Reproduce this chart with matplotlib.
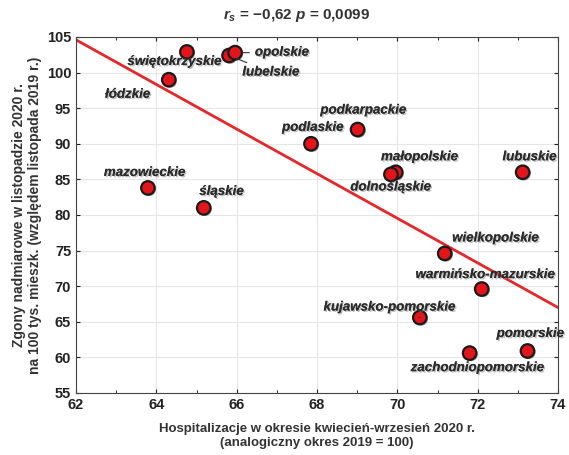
import matplotlib.pyplot as plt
import matplotlib.patheffects as pe

plt.rcParams['font.family'] = ['Liberation Sans', 'DejaVu Sans']
plt.rcParams['mathtext.fontset'] = 'custom'
plt.rcParams['mathtext.it'] = 'Liberation Sans:bold:italic'
plt.rcParams['mathtext.rm'] = 'Liberation Sans:bold'

# voivodeships: hospitalisations (x) vs excess deaths (y)
regions = ["świętokrzyskie", "lubelskie", "opolskie", "łódzkie", "podlaskie",
           "podkarpackie", "małopolskie", "dolnośląskie", "lubuskie",
           "mazowieckie", "śląskie", "wielkopolskie", "warmińsko-mazurskie",
           "kujawsko-pomorskie", "zachodniopomorskie", "pomorskie"]
hosp = [64.76, 65.81, 65.96, 64.31, 67.85, 69.01, 69.96, 69.84, 73.12,
        63.79, 65.18, 71.18, 72.10, 70.56, 71.80, 73.24]
deaths = [102.9, 102.4, 102.8, 99.0, 90.0, 92.0, 86.0, 85.7, 86.0,
          83.8, 81.0, 74.6, 69.6, 65.6, 60.6, 60.9]

# regression line
fit_x = [62, 74]
fit_y = [104.6, 67.0]

# label offsets in pixels (dx, dy) and whether a leader line is drawn
offsets = {
    "świętokrzyskie": (-12, -10, False),
    "lubelskie": (42, -17, True),
    "opolskie": (47, 0, True),
    "łódzkie": (-41, -15, False),
    "podlaskie": (2, 16, False),
    "podkarpackie": (6, 19, False),
    "małopolskie": (24, 15, False),
    "dolnośląskie": (0, -13, False),
    "lubuskie": (7, 15, False),
    "mazowieckie": (-3, 15, False),
    "śląskie": (18, 16, False),
    "wielkopolskie": (51, 15, False),
    "warmińsko-mazurskie": (4, 14, False),
    "kujawsko-pomorskie": (-30, 10, True),
    "zachodniopomorskie": (8, -15, False),
    "pomorskie": (3, 17, False),
}

fig = plt.figure(figsize=(5.69, 4.55), dpi=100)
ax = fig.add_axes([0.1336, 0.1363, 0.8471, 0.7824])

ax.plot(fit_x, fit_y, color="#e8262a", lw=2, zorder=2)
ax.scatter(hosp, deaths, s=95, color="#e4141b", edgecolor="#1a1a1a",
           linewidth=1.6, zorder=3,
           path_effects=[pe.withSimplePatchShadow(offset=(1, -1), alpha=0.4)])

shadow = [pe.withSimplePatchShadow(offset=(1, -1), shadow_rgbFace="gray", alpha=0.5),
          pe.Normal()]
for name, x, y in zip(regions, hosp, deaths):
    dx, dy, lead = offsets[name]
    ax.annotate(name, (x, y), xytext=(dx, dy), textcoords="offset pixels",
                ha="center", va="center", fontsize=9.6, fontweight="bold",
                fontstyle="italic", color="#2b2b2b", path_effects=shadow,
                arrowprops=dict(arrowstyle="-", color="#333333", lw=0.8,
                                shrinkA=2, shrinkB=6) if lead else None,
                zorder=4)

ax.set_xlim(62, 74)
ax.set_ylim(55, 105)
ax.set_xticks(range(62, 75, 2))
ax.set_xticks(range(62, 75, 1), minor=True)
ax.set_yticks(range(55, 106, 5))
ax.grid(True, color="#e6e6e6", lw=0.8)
ax.set_axisbelow(True)
ax.tick_params(direction="in", top=True, right=True, length=3, labelsize=10.5,
               colors="#222222")
ax.tick_params(which="minor", direction="in", top=True, length=2)
for lbl in ax.get_xticklabels() + ax.get_yticklabels():
    lbl.set_fontweight("bold")
for sp in ax.spines.values():
    sp.set_color("#444444")

ax.set_xlabel("Hospitalizacje w okresie kwiecień-wrzesień 2020 r.\n"
              "(analogiczny okres 2019 = 100)", fontsize=9.5,
              fontweight="bold", color="#333333", labelpad=8)
ax.set_ylabel("Zgony nadmiarowe w listopadzie 2020 r.\n"
              "na 100 tys. mieszk. (względem listopada 2019 r.)",
              fontsize=10, fontweight="bold", color="#333333", labelpad=3)
fig.text(0.522, 0.965, r"$r_s$ = −0,62 $p$ = 0,0099", ha="center", va="center",
         fontsize=11, fontweight="bold", color="#333333")

fig.savefig("out.png", dpi=100)
